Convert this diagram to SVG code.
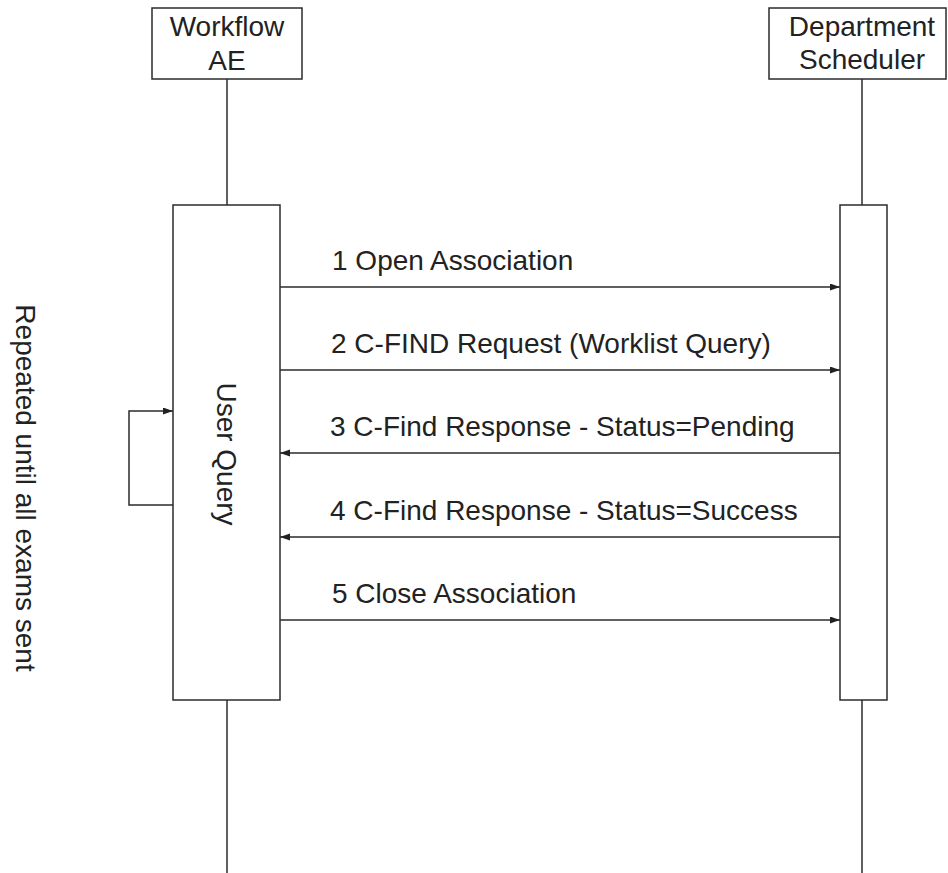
<svg xmlns="http://www.w3.org/2000/svg" width="948" height="873" viewBox="0 0 948 873">
<defs>
<style>
.box{fill:#fff;stroke:#2b2b2b;stroke-width:1.5}
.ln{fill:none;stroke:#2b2b2b;stroke-width:1.5}
.t{font-family:"Liberation Sans",Arial,sans-serif;font-size:28px;fill:#222}
.c{text-anchor:middle}
</style>
<marker id="ah" markerUnits="userSpaceOnUse" markerWidth="11" markerHeight="8" refX="10" refY="3.5" orient="auto">
<path d="M0,0 L10,3.5 L0,7 z" fill="#222"/>
</marker>
</defs>
<rect width="948" height="873" fill="#fff"/>
<g id="lifelines">
<line class="ln" x1="227" y1="79" x2="227" y2="873"/>
<line class="ln" x1="862" y1="79" x2="862" y2="873"/>
</g>
<g id="workflow-ae">
<rect class="box" x="152" y="8" width="150" height="71"/>
<text class="t c" x="227" y="36">Workflow</text>
<text class="t c" x="227" y="70">AE</text>
</g>
<g id="department-scheduler">
<rect class="box" x="769" y="8" width="177" height="71"/>
<text class="t c" x="862" y="36">Department</text>
<text class="t c" x="862" y="69">Scheduler</text>
</g>
<g id="user-query">
<rect class="box" x="173" y="205" width="107" height="495"/>
<text class="t c" transform="translate(217,454) rotate(90)">User Query</text>
</g>
<g id="scheduler-activation">
<rect class="box" x="840" y="205" width="47" height="495"/>
</g>
<g id="loop-label">
<text class="t c" transform="translate(16,488) rotate(90)">Repeated until all exams sent</text>
</g>
<g id="connectors">
<polyline class="ln" points="173,505 129,505 129,411 173,411" marker-end="url(#ah)"/>
<line class="ln" x1="280" y1="287" x2="840" y2="287" marker-end="url(#ah)"/>
<line class="ln" x1="280" y1="370" x2="840" y2="370" marker-end="url(#ah)"/>
<line class="ln" x1="840" y1="453" x2="280" y2="453" marker-end="url(#ah)"/>
<line class="ln" x1="840" y1="537" x2="280" y2="537" marker-end="url(#ah)"/>
<line class="ln" x1="280" y1="620" x2="840" y2="620" marker-end="url(#ah)"/>
</g>
<g id="labels">
<text class="t" x="332" y="270">1 Open Association</text>
<text class="t" x="331" y="353">2 C-FIND Request (Worklist Query)</text>
<text class="t" x="330" y="436">3 C-Find Response - Status=Pending</text>
<text class="t" x="330" y="520">4 C-Find Response - Status=Success</text>
<text class="t" x="332" y="603">5 Close Association</text>
</g>
</svg>
